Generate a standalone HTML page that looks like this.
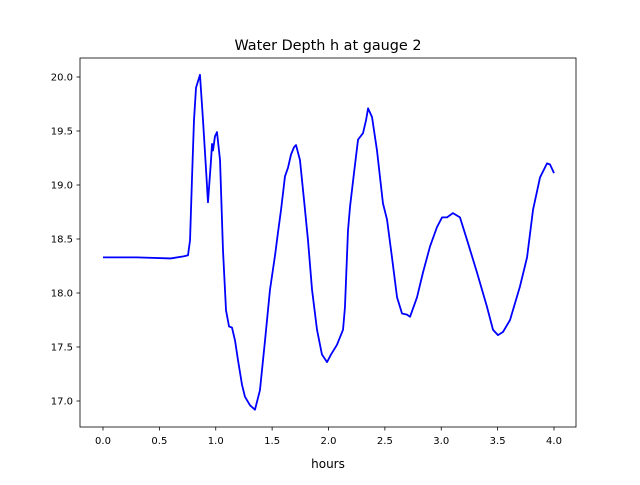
<!DOCTYPE html>
<html><head><meta charset="utf-8"><style>
body{margin:0;background:#fff;font-family:"Liberation Sans","DejaVu Sans",sans-serif;}
svg text{font-family:"DejaVu Sans","Liberation Sans",sans-serif;}
</style></head><body>
<svg id="c" width="640" height="480">
<rect width="640" height="480" fill="#fff"/>
<text x="328" y="50" font-size="14.4" text-anchor="middle">Water Depth h at gauge 2</text>
<text x="328" y="468" font-size="12" text-anchor="middle">hours</text>
</svg>
<script>
const hours=[0,0.3,0.6,0.72,0.754,0.772,0.789,0.807,0.825,0.86,0.887,0.914,0.931,0.958,0.967,0.976,0.993,1.011,1.038,1.064,1.091,1.118,1.144,1.171,1.197,1.233,1.259,1.304,1.348,1.392,1.437,1.481,1.526,1.552,1.579,1.614,1.641,1.667,1.694,1.712,1.747,1.783,1.818,1.854,1.898,1.942,1.987,2.022,2.075,2.129,2.146,2.173,2.191,2.226,2.262,2.306,2.333,2.351,2.386,2.43,2.483,2.519,2.563,2.608,2.652,2.696,2.723,2.785,2.838,2.9,2.962,3.007,3.051,3.104,3.166,3.229,3.317,3.406,3.459,3.503,3.548,3.61,3.698,3.761,3.814,3.876,3.938,3.965,4.0];
const depth=[18.33,18.33,18.32,18.34,18.35,18.49,19.05,19.60,19.90,20.02,19.60,19.14,18.84,19.23,19.38,19.32,19.45,19.49,19.23,18.40,17.84,17.69,17.68,17.56,17.38,17.15,17.04,16.96,16.92,17.10,17.56,18.03,18.35,18.56,18.77,19.08,19.16,19.28,19.35,19.37,19.23,18.86,18.49,18.03,17.66,17.43,17.36,17.43,17.52,17.66,17.87,18.58,18.80,19.11,19.42,19.48,19.60,19.71,19.63,19.32,18.83,18.68,18.33,17.96,17.81,17.80,17.78,17.96,18.19,18.43,18.61,18.70,18.70,18.74,18.70,18.49,18.19,17.87,17.66,17.61,17.64,17.75,18.06,18.33,18.77,19.07,19.20,19.19,19.11];
const xTicks=[0,0.5,1,1.5,2,2.5,3,3.5,4];
const yTicks=[17,17.5,18,18.5,19,19.5,20];
const xTickLabels=["0.0","0.5","1.0","1.5","2.0","2.5","3.0","3.5","4.0"];
const yTickLabels=["17.0","17.5","18.0","18.5","19.0","19.5","20.0"];
const L=80,R=576,T=58,B=427;
const X=v=>103+v*112.75;
const Y=v=>77+(20-v)*108;
const svg=document.getElementById('c');
const NS='http://www.w3.org/2000/svg';
function mk(tag,attrs){const e=document.createElementNS(NS,tag);for(const k in attrs)e.setAttribute(k,attrs[k]);svg.appendChild(e);return e;}
xTicks.forEach((t,i)=>{
 const l=mk('line',{x1:X(t),x2:X(t),y1:B,y2:B+3.5,stroke:'#000','stroke-width':0.8});
 
 
 const tx=mk('text',{x:X(t),y:B+17,'font-size':10,'text-anchor':'middle'});
 tx.textContent=xTickLabels[i];
 
 
});
yTicks.forEach((t,i)=>{
 const l=mk('line',{x1:L-3.5,x2:L,y1:Y(t),y2:Y(t),stroke:'#000','stroke-width':0.8});
 
 
 const tx=mk('text',{x:L-7,y:Y(t)+3.5,'font-size':10,'text-anchor':'end'});
 tx.textContent=yTickLabels[i];
 
 
});
const pl=mk('polyline',{points:hours.map((h,i)=>X(h)+','+Y(depth[i])).join(' '),fill:'none',stroke:'#0000ff','stroke-width':1.8,'stroke-linejoin':'round'});


const fr=mk('rect',{x:L,y:T,width:R-L,height:B-T,fill:'none',stroke:'#000','stroke-width':0.8});


</script>
</body></html>
